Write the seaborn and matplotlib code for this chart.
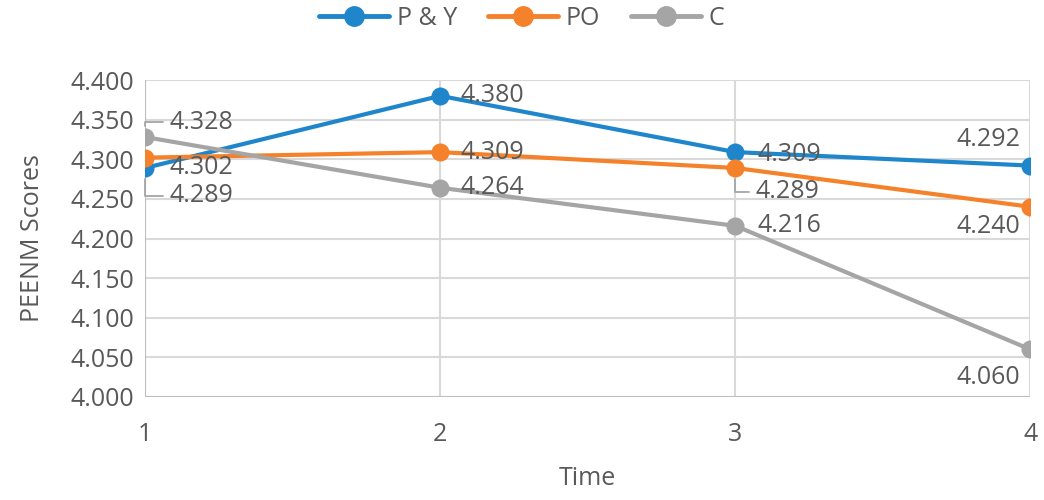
import pandas as pd
import numpy as np
import matplotlib.pyplot as plt
import seaborn as sns

# data
times = [1, 2, 3, 4]
series_names = ["P & Y", "PO", "C"]
py_scores = [4.289, 4.380, 4.309, 4.292]
po_scores = [4.302, 4.309, 4.289, 4.240]
c_scores = [4.328, 4.264, 4.216, 4.060]
colors = ["#1f86cc", "#f5822a", "#a5a5a5"]

df = pd.DataFrame({
    "Time": times * 3,
    "score": py_scores + po_scores + c_scores,
    "series": [s for s in series_names for _ in times],
})

sns.set_style("white")
plt.rcParams['font.family'] = ['Open Sans', 'DejaVu Sans']
txt = "#595959"
grid = "#d9d9d9"
fs = 18

fig = plt.figure(figsize=(10.44, 5), dpi=100)
ax = fig.add_axes([0.139, 0.206, 0.848, 0.634])

sns.lineplot(data=df, x="Time", y="score", hue="series", palette=colors,
             marker="o", markersize=13, markeredgewidth=0, linewidth=3,
             ax=ax, legend=False, zorder=3)

ax.set_xlim(1, 4)
ax.set_ylim(4.0, 4.4)
ax.set_xticks(times)
ax.set_yticks(np.arange(4.0, 4.401, 0.05))
ax.set_yticklabels(["%.3f" % v for v in np.arange(4.0, 4.401, 0.05)])
ax.grid(True, color=grid, linewidth=1.5, zorder=0)
for s in ax.spines.values():
    s.set_visible(False)
ax.axhline(4.0, color="#bfbfbf", linewidth=1.5, zorder=1)
ax.axvline(1, color="#bfbfbf", linewidth=1.5, zorder=1)
ax.tick_params(axis="both", length=0, labelsize=fs, labelcolor=txt)
ax.tick_params(axis="x", pad=18)
ax.tick_params(axis="y", pad=8)
ax.set_xlabel("Time", fontsize=fs, color=txt, labelpad=14)
ax.set_ylabel("PEENM Scores", fontsize=fs, color=txt, labelpad=18)

# data labels: (series index, point index, offset px, ha, leader line)
all_vals = [py_scores, po_scores, c_scores]
placements = [
    (2, 0, (24, 15), "left", True),
    (1, 0, (24, -10), "left", False),
    (0, 0, (24, -28), "left", True),
    (0, 1, (20, 0), "left", False),
    (1, 1, (20, 0), "left", False),
    (2, 1, (20, 0), "left", False),
    (0, 2, (22, -2), "left", False),
    (1, 2, (20, -24), "left", True),
    (2, 2, (22, 0), "left", False),
    (0, 3, (-10, 26), "right", False),
    (1, 3, (-10, -20), "right", False),
    (2, 3, (-10, -28), "right", False),
]
for si, i, off, ha, leader in placements:
    v = all_vals[si][i]
    kw = {}
    if leader:
        kw["arrowprops"] = dict(arrowstyle="-", color="#a5a5a5", lw=1.3,
                                shrinkA=2, shrinkB=8,
                                connectionstyle="angle,angleA=0,angleB=90,rad=0")
    ax.annotate("%.3f" % v, xy=(times[i], v), xytext=off,
                textcoords="offset pixels", ha=ha, va="center",
                fontsize=fs, color=txt, zorder=4, **kw)

handles = [plt.Line2D([], [], color=c, marker="o", markersize=14, lw=3.5)
           for c in colors]
fig.legend(handles, series_names, loc="center", bbox_to_anchor=(0.5, 0.963),
           ncol=3, frameon=False, fontsize=fs, labelcolor=txt,
           handlelength=2.8, columnspacing=1.25, handletextpad=0.3)

fig.savefig("out.png", dpi=100)
